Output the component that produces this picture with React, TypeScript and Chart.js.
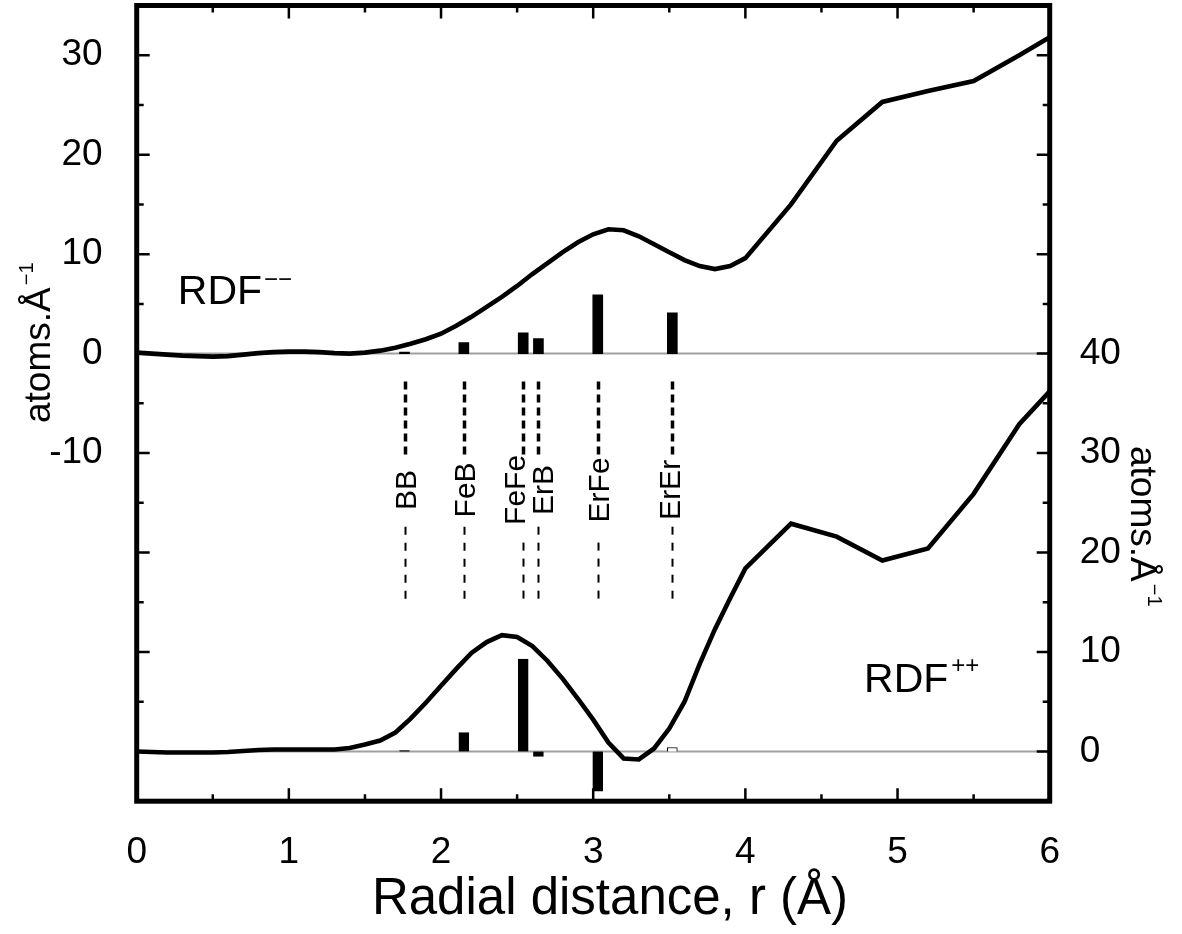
import React, { useEffect, useRef } from "react";
import { Chart, registerables } from "chart.js";

Chart.register(...registerables);

// ---------------- data ----------------
const rValues = [
  0.0, 0.1, 0.2, 0.3, 0.4, 0.5, 0.6, 0.7, 0.8, 0.9,
  1.0, 1.1, 1.2, 1.3, 1.4, 1.5, 1.6, 1.7, 1.8, 1.9,
  2.0, 2.1, 2.2, 2.3, 2.4, 2.5, 2.6, 2.7, 2.8, 2.9,
  3.0, 3.1, 3.2, 3.3, 3.4, 3.5, 3.6, 3.7, 3.8, 3.9,
  4.0, 4.3, 4.6, 4.9, 5.2, 5.5, 5.8, 6.0,
];

// RDF-- (left axis)
const rdfMinusMinus = [
  0.1, 0.0, -0.1, -0.2, -0.25, -0.3, -0.25, -0.1, 0.05, 0.15,
  0.2, 0.2, 0.15, 0.05, 0.0, 0.1, 0.3, 0.6, 1.0, 1.45,
  2.0, 2.8, 3.7, 4.7, 5.7, 6.8, 8.0, 9.1, 10.2, 11.2,
  12.0, 12.5, 12.4, 11.8, 11.0, 10.2, 9.4, 8.8, 8.5, 8.8,
  9.6, 15.0, 21.4, 25.3, 26.4, 27.4, 30.0, 31.8,
];

// RDF++ (right axis)
const rdfPlusPlus = [
  0.0, -0.05, -0.1, -0.1, -0.1, -0.1, -0.05, 0.05, 0.15, 0.2,
  0.2, 0.2, 0.2, 0.2, 0.35, 0.7, 1.1, 1.9, 3.3, 4.9,
  6.6, 8.3, 9.9, 11.0, 11.7, 11.5, 10.6, 9.1, 7.3, 5.3,
  3.2, 0.9, -0.7, -0.8, 0.3, 2.3, 5.0, 8.8, 12.3, 15.4,
  18.4, 22.9, 21.6, 19.2, 20.4, 25.9, 32.9, 36.2,
];

const pairNames = ["BB", "FeB", "FeFe", "ErB", "ErFe", "ErEr"];
const pairDistances = [1.76, 2.15, 2.54, 2.64, 3.03, 3.52];
const pairMinusMinus = [0.15, 1.1, 2.1, 1.5, 5.9, 4.1];
const pairPlusPlus = [0.1, 1.9, 9.3, -0.5, -4.0, 0.4];

const xTickLabels = [0, 1, 2, 3, 4, 5, 6];
const leftTickLabels = [30, 20, 10, 0, -10];
const rightTickLabels = [0, 10, 20, 30, 40];

// ---------------- layout constants ----------------
const FONT = '"Liberation Sans", Arial, Helvetica, sans-serif';
const AREA_LEFT = 136.7;
const AREA_RIGHT = 1049.7;
const AREA_TOP = 5.5;
const AREA_BOTTOM = 801.2;
const W = 1182;
const H = 934;

const LABEL_DX = [2.5, 2, -7, 6, 2, -1];
const THICK_FROM = -2.8;
const THICK_TO = -10.3;
const THIN_FROM = [-17.4, -17.4, -19.0, -17.4, -19.0, -17.4];
const THIN_TO = -25.1;
const LABEL_CENTER = -13.7;

function drawSup(
  ctx: CanvasRenderingContext2D,
  main: string,
  sup: string,
  mainSize: number,
  supSize: number,
  rise: number,
  gap: number
) {
  ctx.font = `${mainSize}px ${FONT}`;
  ctx.textAlign = "left";
  ctx.textBaseline = "alphabetic";
  ctx.fillText(main, 0, 0);
  const w = ctx.measureText(main).width;
  ctx.font = `${supSize}px ${FONT}`;
  ctx.fillText(sup, w + gap, -rise);
}

const rdfPlugin = {
  id: "rdfDecor",
  beforeDatasetsDraw(chart: any) {
    const { ctx, chartArea: a, scales } = chart;
    ctx.save();
    ctx.strokeStyle = "#a0a0a0";
    ctx.lineWidth = 2;
    ctx.beginPath();
    const p1 = scales.y.getPixelForValue(0);
    ctx.moveTo(a.left, p1);
    ctx.lineTo(a.right, p1);
    const p2 = scales.y2.getPixelForValue(0);
    ctx.moveTo(a.left, p2);
    ctx.lineTo(a.right, p2);
    ctx.stroke();
    ctx.restore();
  },
  afterDatasetsDraw(chart: any) {
    const { ctx, chartArea: a, scales } = chart;
    const xs = scales.x;
    const ys = scales.y;
    const ys2 = scales.y2;
    ctx.save();
    ctx.fillStyle = "#000";
    ctx.strokeStyle = "#000";

    // dashed pair markers
    pairDistances.forEach((d, i) => {
      const px = Math.round(xs.getPixelForValue(d)) + 0.5;
      ctx.lineWidth = 3.5;
      ctx.setLineDash([8, 5]);
      ctx.beginPath();
      ctx.moveTo(px, ys.getPixelForValue(THICK_FROM));
      ctx.lineTo(px, ys.getPixelForValue(THICK_TO));
      ctx.stroke();
      ctx.lineWidth = 2;
      ctx.setLineDash([8, 8]);
      ctx.beginPath();
      ctx.moveTo(px, ys.getPixelForValue(THIN_FROM[i]));
      ctx.lineTo(px, ys.getPixelForValue(THIN_TO));
      ctx.stroke();
      ctx.setLineDash([]);
      ctx.save();
      ctx.translate(px + LABEL_DX[i], ys.getPixelForValue(LABEL_CENTER));
      ctx.rotate(-Math.PI / 2);
      ctx.font = `30px ${FONT}`;
      ctx.textAlign = "center";
      ctx.textBaseline = "middle";
      ctx.fillText(pairNames[i], 0, 0);
      ctx.restore();
    });

    // frame
    ctx.lineWidth = 5;
    ctx.strokeRect(a.left, a.top, a.right - a.left, a.bottom - a.top);

    // inward ticks
    ctx.lineWidth = 2.5;
    ctx.beginPath();
    for (let v = -40; v <= 30; v += 5) {
      const py = ys.getPixelForValue(v);
      const len = v % 10 === 0 ? 13 : 7;
      ctx.moveTo(a.left, py);
      ctx.lineTo(a.left + len, py);
      ctx.moveTo(a.right, py);
      ctx.lineTo(a.right - len, py);
    }
    for (let k = 1; k < 12; k++) {
      const v = k * 0.5;
      const px = xs.getPixelForValue(v);
      const len = k % 2 === 0 ? 13 : 7;
      ctx.moveTo(px, a.bottom);
      ctx.lineTo(px, a.bottom - len);
      ctx.moveTo(px, a.top);
      ctx.lineTo(px, a.top + len);
    }
    ctx.stroke();

    // series labels
    ctx.save();
    ctx.translate(xs.getPixelForValue(0.27), ys.getPixelForValue(5.0));
    drawSup(ctx, "RDF", "\u2212\u2212", 41, 24, 17, 2);
    ctx.restore();

    ctx.save();
    ctx.translate(xs.getPixelForValue(4.78), ys2.getPixelForValue(6.0));
    drawSup(ctx, "RDF", "++", 41, 24, 19, 3);
    ctx.restore();

    // axis titles
    ctx.save();
    ctx.translate(50, 423);
    ctx.rotate(-Math.PI / 2);
    drawSup(ctx, "atoms.\u00C5", "\u22121", 37, 20, 17, 2);
    ctx.restore();

    ctx.save();
    ctx.translate(1131, 446);
    ctx.rotate(Math.PI / 2);
    drawSup(ctx, "atoms.\u00C5", "\u22121", 37, 20, 17, 2);
    ctx.restore();

    ctx.font = `51px ${FONT}`;
    ctx.textAlign = "center";
    ctx.textBaseline = "alphabetic";
    ctx.fillText("Radial distance, r (\u00C5)", 610, 914);

    ctx.restore();
  },
};

export default function App() {
  const canvasRef = useRef<HTMLCanvasElement | null>(null);

  useEffect(() => {
    if (!canvasRef.current) return;
    const tickFont = { family: FONT, size: 37 };
    const chart = new Chart(canvasRef.current, {
      type: "line",
      data: {
        datasets: [
          {
            type: "line",
            label: "RDF--",
            data: rValues.map((r, i) => ({ x: r, y: rdfMinusMinus[i] })),
            yAxisID: "y",
            borderColor: "#000",
            borderWidth: 4.6,
            pointRadius: 0,
            tension: 0,
            fill: false,
          },
          {
            type: "line",
            label: "RDF++",
            data: rValues.map((r, i) => ({ x: r, y: rdfPlusPlus[i] })),
            yAxisID: "y2",
            borderColor: "#000",
            borderWidth: 4.6,
            pointRadius: 0,
            tension: 0,
            fill: false,
          },
          {
            type: "bar",
            label: "pairs--",
            data: pairDistances.map((d, i) => ({ x: d, y: pairMinusMinus[i] })),
            yAxisID: "y",
            backgroundColor: "#000",
            borderWidth: 0,
            barThickness: 10,
            grouped: false,
          } as any,
          {
            type: "bar",
            label: "pairs++",
            data: pairDistances.map((d, i) => ({ x: d, y: pairPlusPlus[i] })),
            yAxisID: "y2",
            backgroundColor: ["#000", "#000", "#000", "#000", "#000", "#fff"],
            borderColor: "#000",
            borderWidth: 1,
            barThickness: 10,
            grouped: false,
          } as any,
        ],
      },
      options: {
        responsive: false,
        animation: false,
        devicePixelRatio: 1,
        layout: { padding: { top: AREA_TOP, left: 0, right: 0, bottom: 0 } },
        plugins: {
          legend: { display: false },
          tooltip: { enabled: false },
        },
        scales: {
          x: {
            type: "linear",
            position: "bottom",
            min: 0,
            max: 6,
            offset: false,
            grid: { display: false },
            border: { display: false },
            afterBuildTicks: (s: any) => {
              s.ticks = xTickLabels.map((v) => ({ value: v }));
            },
            afterFit: (s: any) => {
              s.height = H - AREA_BOTTOM;
              s.paddingLeft = 0;
              s.paddingRight = 0;
            },
            ticks: {
              color: "#000",
              font: tickFont,
              padding: 21,
              maxRotation: 0,
              autoSkip: false,
            },
          },
          y: {
            type: "linear",
            position: "left",
            min: -45,
            max: 35,
            grid: { display: false },
            border: { display: false },
            afterBuildTicks: (s: any) => {
              s.ticks = leftTickLabels.map((v) => ({ value: v }));
            },
            afterFit: (s: any) => {
              s.width = AREA_LEFT;
              s.paddingTop = 0;
              s.paddingBottom = 0;
            },
            ticks: { color: "#000", font: tickFont, padding: 26, autoSkip: false },
          },
          y2: {
            type: "linear",
            position: "right",
            min: -5,
            max: 75,
            grid: { display: false },
            border: { display: false },
            afterBuildTicks: (s: any) => {
              s.ticks = rightTickLabels.map((v) => ({ value: v }));
            },
            afterFit: (s: any) => {
              s.width = W - AREA_RIGHT;
              s.paddingTop = 0;
              s.paddingBottom = 0;
            },
            ticks: { color: "#000", font: tickFont, padding: 22, autoSkip: false },
          },
        },
      },
      plugins: [rdfPlugin],
    } as any);
    return () => chart.destroy();
  }, []);

  return (
    <div
      style={{
        position: "fixed",
        left: 0,
        top: 0,
        width: W,
        height: H,
        background: "#fff",
      }}
    >
      <canvas ref={canvasRef} width={W} height={H} style={{ display: "block" }} />
    </div>
  );
}
